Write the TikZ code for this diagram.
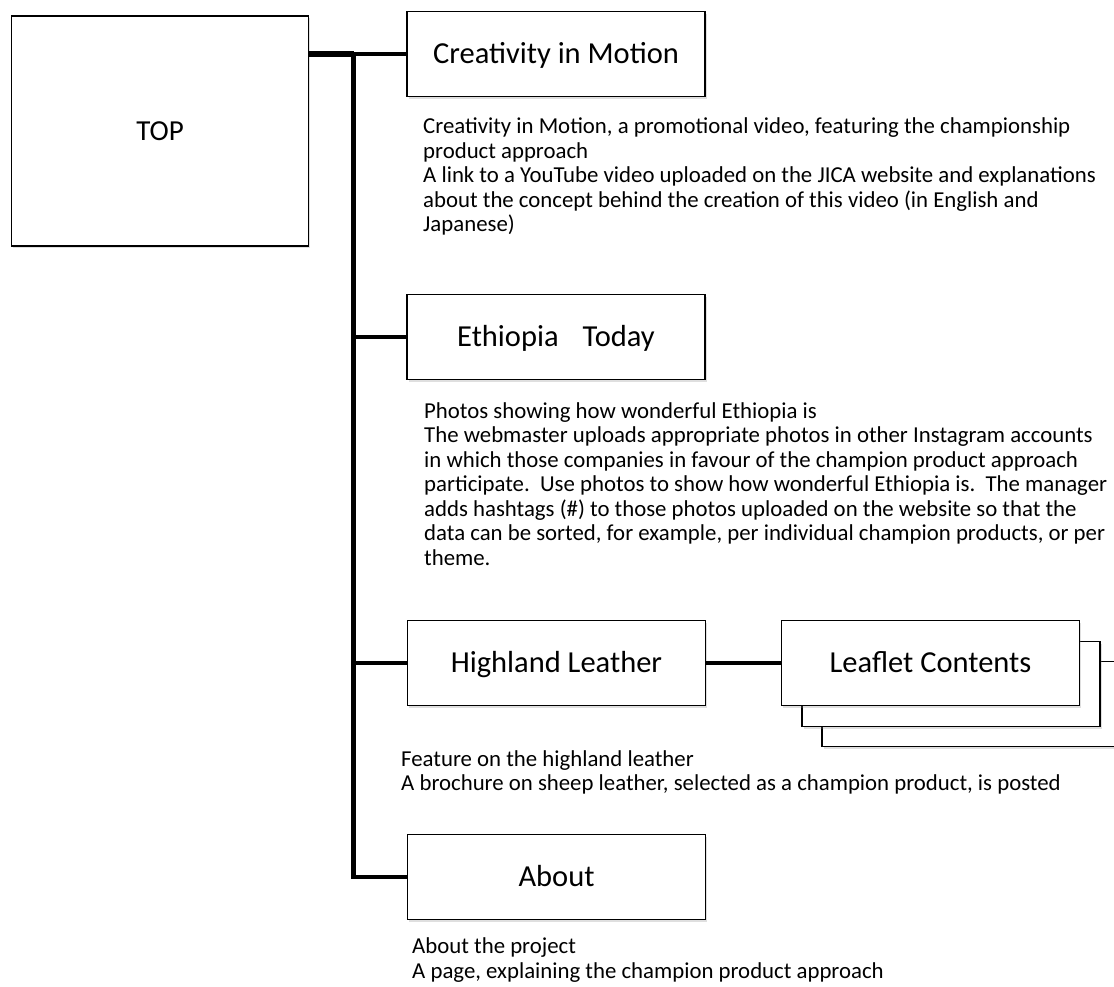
\documentclass[tikz,border=0pt]{standalone}
\usepackage{fontspec}
\setmainfont{Carlito}
\usetikzlibrary{shadows}
\begin{document}
\begin{tikzpicture}[x=1pt,y=-1pt,
  box/.style={draw=black, line width=1.9pt, fill=white, rectangle,
    minimum width=298pt, minimum height=85pt, inner sep=0pt,
    text height=19.6pt, text depth=0pt,
    font=\fontsize{30.5}{36}\selectfont,
    drop shadow={shadow xshift=1.5pt, shadow yshift=-2.5pt, opacity=0.25}},
  desc/.style={anchor=base west, inner sep=0pt, font=\fontsize{22.8}{27}\selectfont},
  trunk/.style={line width=4.5pt, line join=miter},
  branch/.style={line width=4pt},
  feeder/.style={line width=6pt}
]
\useasboundingbox (0,0) rectangle (1114,987);
\clip (0,0) rectangle (1114,987);

% top page
\node[box, minimum width=297pt, minimum height=230pt, text height=18.7pt,
      font=\fontsize{29}{34}\selectfont] (top) at (160,131) {TOP};

% second-level pages
\node[box] (cim) at (556,54) {Creativity in Motion};
\node[box] (eth) at (556,337) {Ethiopia\hspace{24pt}Today};
\node[box] (hl)  at (556.5,663) {Highland Leather};
\node[box] (ab)  at (556.5,877) {About};

% leaflet stack
\node[box] (lf2) at (971,704) {};
\node[box] (lf1) at (951,684) {};
\node[box] (lf)  at (930.5,663) {Leaflet Contents};

% tree connectors
\coordinate (j0) at (353.5,54);
\draw[feeder] (top.east |- cim.west) -- (j0);
\draw[branch] (j0) -- (cim.west);
\draw[trunk] (j0) -- (j0 |- ab.west) -- (ab.west);
\draw[branch] (j0 |- eth.west) -- (eth.west);
\draw[branch] (j0 |- hl.west) -- (hl.west);
\draw[branch] (hl.east) -- (lf.west);

% descriptions
\node[desc] (c1) at (423,134) {Creativity in Motion, a promotional video, featuring the championship};
\node[desc] (c2) at (423,158.5) {product approach};
\node[desc] (c3) at (423,183) {A link to a YouTube video uploaded on the JICA website and explanations};
\node[desc] (c4) at (423,207.5) {about the concept behind the creation of this video (in English and};
\node[desc] (c5) at (423,232) {Japanese)};

\node[desc] (e1) at (424,418) {Photos showing how wonderful Ethiopia is};
\node[desc] (e2) at (424,442.5) {The webmaster uploads appropriate photos in other Instagram accounts};
\node[desc] (e3) at (424,467) {in which those companies in favour of the champion product approach};
\node[desc] (e4) at (424,491.5) {participate.\ \ Use photos to show how wonderful Ethiopia is.\ \ The manager};
\node[desc] (e5) at (424,516) {adds hashtags (\#) to those photos uploaded on the website so that the};
\node[desc] (e6) at (424,540.5) {data can be sorted, for example, per individual champion products, or per};
\node[desc] (e7) at (424,565) {theme.};

\node[desc] (h1) at (401,766) {Feature on the highland leather};
\node[desc] (h2) at (401,790) {A brochure on sheep leather, selected as a champion product, is posted};

\node[desc] (a1) at (412,953) {About the project};
\node[desc] (a2) at (412,978) {A page, explaining the champion product approach};
\end{tikzpicture}
\end{document}
